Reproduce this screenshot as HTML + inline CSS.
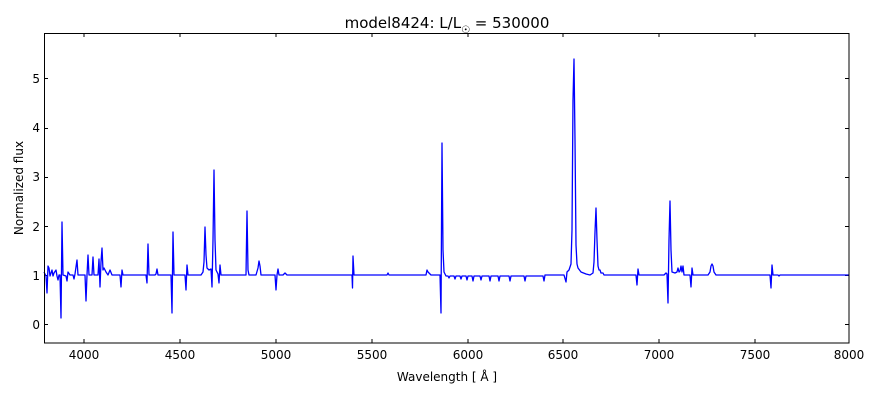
<!DOCTYPE html>
<html><head><meta charset="utf-8"><style>
body{margin:0;background:#fff;width:880px;height:400px;overflow:hidden}
svg{font-family:"DejaVu Sans","Liberation Sans",sans-serif}
</style></head><body>
<svg width="880" height="400" viewBox="0 0 880 400">
<rect width="880" height="400" fill="#fff"/>
<text x="447" y="28" font-size="15" text-anchor="middle">model8424: L/L<tspan font-size="10" dy="5">☉</tspan><tspan dy="-5"> = 530000</tspan></text>
<g font-size="12" text-anchor="middle">
<text x="84" y="359">4000</text><text x="180" y="359">4500</text><text x="276" y="359">5000</text><text x="372" y="359">5500</text><text x="468" y="359">6000</text><text x="563" y="359">6500</text><text x="659" y="359">7000</text><text x="755" y="359">7500</text><text x="849" y="359">8000</text>
</g>
<g font-size="12" text-anchor="end">
<text x="40" y="329">0</text><text x="40" y="280">1</text><text x="40" y="231">2</text><text x="40" y="181">3</text><text x="40" y="132">4</text><text x="40" y="83">5</text>
</g>
<text x="447" y="381" font-size="12" text-anchor="middle">Wavelength [ Å ]</text>
<text transform="translate(23,188) rotate(-90)" font-size="12" text-anchor="middle">Normalized flux</text>
<g stroke="#000" stroke-width="1">
<line x1="84" y1="343" x2="84" y2="339"/><line x1="180" y1="343" x2="180" y2="339"/><line x1="276" y1="343" x2="276" y2="339"/><line x1="372" y1="343" x2="372" y2="339"/><line x1="468" y1="343" x2="468" y2="339"/><line x1="563" y1="343" x2="563" y2="339"/><line x1="659" y1="343" x2="659" y2="339"/><line x1="755" y1="343" x2="755" y2="339"/>
<line x1="84" y1="33" x2="84" y2="37"/><line x1="180" y1="33" x2="180" y2="37"/><line x1="276" y1="33" x2="276" y2="37"/><line x1="372" y1="33" x2="372" y2="37"/><line x1="468" y1="33" x2="468" y2="37"/><line x1="563" y1="33" x2="563" y2="37"/><line x1="659" y1="33" x2="659" y2="37"/><line x1="755" y1="33" x2="755" y2="37"/>
<line x1="44" y1="324.5" x2="48" y2="324.5"/><line x1="44" y1="275.5" x2="48" y2="275.5"/><line x1="44" y1="226.5" x2="48" y2="226.5"/><line x1="44" y1="177.5" x2="48" y2="177.5"/><line x1="44" y1="128.5" x2="48" y2="128.5"/><line x1="44" y1="78.5" x2="48" y2="78.5"/>
<line x1="849" y1="324.5" x2="845" y2="324.5"/><line x1="849" y1="275.5" x2="845" y2="275.5"/><line x1="849" y1="226.5" x2="845" y2="226.5"/><line x1="849" y1="177.5" x2="845" y2="177.5"/><line x1="849" y1="128.5" x2="845" y2="128.5"/><line x1="849" y1="78.5" x2="845" y2="78.5"/>
</g>
<polyline fill="none" stroke="#0000ff" stroke-width="1.3" stroke-linejoin="round" points="
44,272 46,276 47,293 48,266 49,268 50,276 52,270 53,276 54,273 56,270 57,276 58,280 59,275 60,275 61,318 62,222 63,275 66,276 67,281 68,272 70,275 73,275 74,279 75,274 77,260 78,275 84,275 85,275 86,301 87,275 88,255 89,275 92,275 93,257 94,275 98,275 99,259 100,287 101,262 102,248 103,270 104,268 106,272 108,275 110,270 112,275 120,275 121,287 122,270 123,275 146,275 147,283 148,244 149,275 155,275 156,274 157,269 158,275 171,275 172,313 173,232 174,275 185,275 186,290 187,265 188,275 201,275 203,272 204,262 205,227 206,255 207,268 209,270 211,269 212,287 213,240 214,170 215,240 216,270 218,274 219,283 220,265 221,275 246,275 247,211 248,270 249,275 256,275 258,268 259,261 260,266 261,275 275,275 276,290 277,275 278,269 279,275 283,275 285,273 287,275 352,275 352.5,288 353,256 354,275 387,275 388,273 389,275 426,275 427,270 428,272 429,273 431,275 440,275 441,313 442,143 443,250 444,272 446,276 448,276 449,278 450,276 454,276 455,279 456,276 460,276 461,279 462,276 466,276 467,280 468,276 472,276 473,281 474,276 480,276 481,280 482,276 489,276 490,281 491,276 498,276 499,281 500,276 509,276 510,281 511,276 524,276 525,281 526,276 543,276 544,281 545,275 564,275 566,282 567,272 569,270 571,264 572,230 573,100 574,59 575,140 576,245 577,264 578,268 581,272 586,274 590,275 593,273 594,262 595,232 596,208 597,240 598,266 599,270 600,270 601,273 603,273 604,275 636,275 637,285 638,269 639,275 664,275 666,273 667,274 668,303 669,240 670,201 671,250 672,272 675,273 677,272 678,268 679,272 680,271 681,266 682,272 683,266 684,275 690,275 691,287 692,268 693,275 708,275 710,272 711,266 712,264 713,266 714,272 716,275 770,275 771,288 772,265 773,275 778,275 779,276 780,275 849,275"/>
<rect x="44.5" y="33.5" width="804.5" height="309.5" fill="none" stroke="#000" stroke-width="1"/>
</svg>
</body></html>
